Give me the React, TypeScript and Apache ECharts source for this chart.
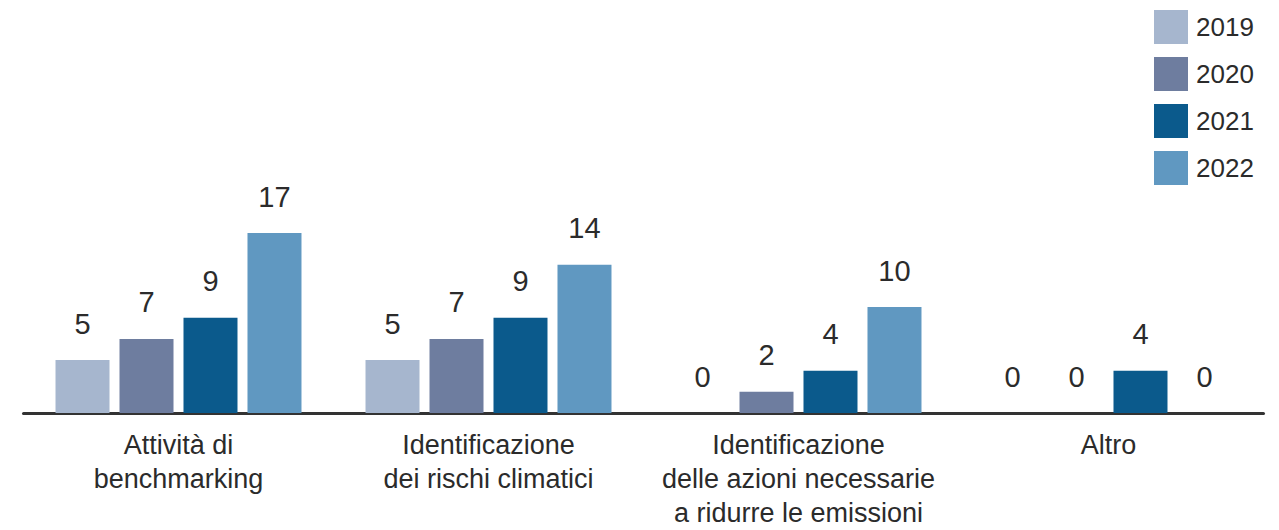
import React, { useEffect, useRef } from "react";
import * as echarts from "echarts";

const categories = [
  "Attività di\nbenchmarking",
  "Identificazione\ndei rischi climatici",
  "Identificazione\ndelle azioni necessarie\na ridurre le emissioni",
  "Altro",
];
const years = ["2019", "2020", "2021", "2022"];
const values2019 = [5, 5, 0, 0];
const values2020 = [7, 7, 2, 0];
const values2021 = [9, 9, 4, 4];
const values2022 = [17, 14, 10, 0];
const colors = ["#a6b6ce", "#6e7d9f", "#0b5a8c", "#6098c1"];

const FONT = "'Liberation Sans Narrow', 'Arial Narrow', 'Liberation Sans', sans-serif";
const TEXT = "#2b2b2b";

export default function App() {
  const ref = useRef<HTMLDivElement>(null);
  useEffect(() => {
    document.body.style.margin = "0";
    const chart = echarts.init(ref.current!, null, { renderer: "svg" });
    const seriesData = [values2019, values2020, values2021, values2022];
    chart.setOption({
      animation: false,
      textStyle: { fontFamily: FONT },
      color: colors,
      legend: {
        orient: "vertical",
        left: 1154,
        top: 10,
        padding: 0,
        itemWidth: 34,
        itemHeight: 34,
        itemGap: 13,
        icon: "rect",
        data: years,
        textStyle: { fontFamily: FONT, fontSize: 26, color: TEXT, padding: [0, 0, 0, 3] },
      },
      grid: { left: 23.5, right: 15.5, top: 233, bottom: 116, containLabel: false },
      xAxis: {
        type: "category",
        data: categories,
        axisLine: { show: true, lineStyle: { color: "#333", width: 3 } },
        axisTick: { show: false },
        axisLabel: {
          fontFamily: FONT,
          fontSize: 27,
          lineHeight: 34,
          color: TEXT,
          margin: 15,
          interval: 0,
        },
      },
      yAxis: {
        type: "value",
        min: 0,
        max: 17,
        show: false,
        splitLine: { show: false },
      },
      series: years.map((y, i) => ({
        name: y,
        type: "bar",
        data: seriesData[i],
        barWidth: 54,
        barGap: "18.5%",
        itemStyle: { color: colors[i] },
        label: {
          show: true,
          position: "top",
          distance: 22,
          fontFamily: FONT,
          fontSize: 29,
          color: TEXT,
        },
      })),
    });
    return () => chart.dispose();
  }, []);
  return <div ref={ref} style={{ width: 1279, height: 530 }} />;
}
